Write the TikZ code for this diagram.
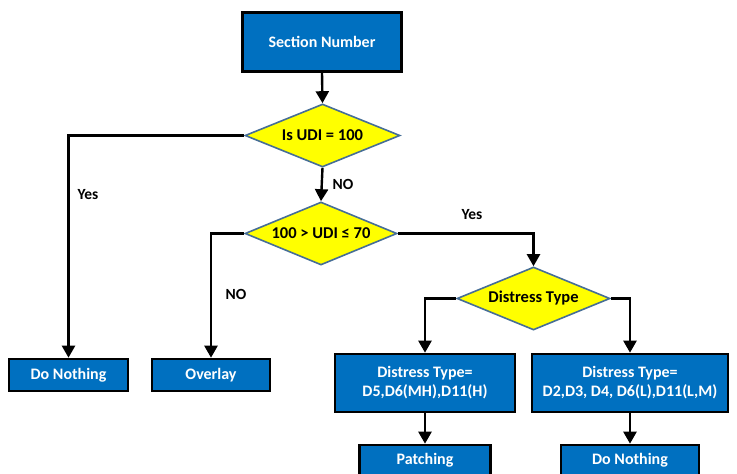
\documentclass[tikz,border=0pt]{standalone}
\usepackage{fontspec}
\setmainfont{Carlito}
\usetikzlibrary{shapes.geometric,arrows.meta}
\definecolor{boxblue}{RGB}{0,112,192}
\definecolor{dborder}{RGB}{70,110,150}
\definecolor{dyellow}{RGB}{255,255,0}
\tikzset{
  bbox/.style={rectangle, draw=black, line width=2.6pt, fill=boxblue, text=white,
    font=\fontsize{16}{19}\selectfont\bfseries, align=center, inner sep=0pt},
  dec/.style={diamond, draw=dborder, line width=1.6pt, fill=dyellow, text=black,
    font=\fontsize{16.5}{19}\selectfont\bfseries, inner sep=0pt, aspect=2.4},
  arr/.style={line width=2.4pt, -{Triangle[width=13pt,length=12pt]}},
  lab/.style={font=\fontsize{15.5}{18}\selectfont\bfseries, text=black, inner sep=0pt},
}
\begin{document}
\begin{tikzpicture}[x=1pt,y=-1pt]
\useasboundingbox (0,0) rectangle (737,474);
\clip (0,0) rectangle (737,474);
\fill[white] (0,0) rectangle (737,474);
\node[bbox, minimum width=159pt, minimum height=59pt] (sec) at (322,42) {Section Number};
\node[dec, minimum width=155pt, minimum height=63pt] (d1) at (322.5,135.5) {Is UDI = 100};
\node[dec, minimum width=152pt, minimum height=63pt] (d2) at (321,233.5) {100 > UDI ≤ 70};
\node[dec, minimum width=153pt, minimum height=63pt] (d3) at (533.5,298.5) {Distress Type};
\node[bbox, minimum width=119pt, minimum height=32pt] (dn1) at (68.5,375) {Do Nothing};
\node[bbox, minimum width=118pt, minimum height=32pt] (ov) at (211,375) {Overlay};
\node[bbox, minimum width=180pt, minimum height=58pt] (ds1) at (425,383) {Distress Type=\\D5,D6(MH),D11(H)};
\node[bbox, minimum width=196pt, minimum height=58pt] (ds2) at (630,383) {Distress Type=\\D2,D3, D4, D6(L),D11(L,M)};
\node[bbox, minimum width=131pt, minimum height=30pt] (pat) at (425,460) {Patching};
\node[bbox, minimum width=138pt, minimum height=30pt] (dn2) at (630,460) {Do Nothing};
\draw[arr] (sec.south) -- (d1.north);
\draw[arr] (d1.west) -| (dn1.north);
\draw[arr] (d1.south) -- (d2.north);
\draw[arr] (d2.west) -| (ov.north);
\draw[arr] (d2.east) -| (d3.north);
\draw[arr] (d3.west) -| (ds1.north);
\draw[arr] (d3.east) -| (ds2.north);
\draw[arr] (ds1.south) -- (pat.north);
\draw[arr] (ds2.south) -- (dn2.north);
\node[lab] (l1) at (88,195) {Yes};
\node[lab] (l2) at (343,184) {NO};
\node[lab] (l3) at (236,294) {NO};
\node[lab] (l4) at (472,215) {Yes};
\end{tikzpicture}
\end{document}
